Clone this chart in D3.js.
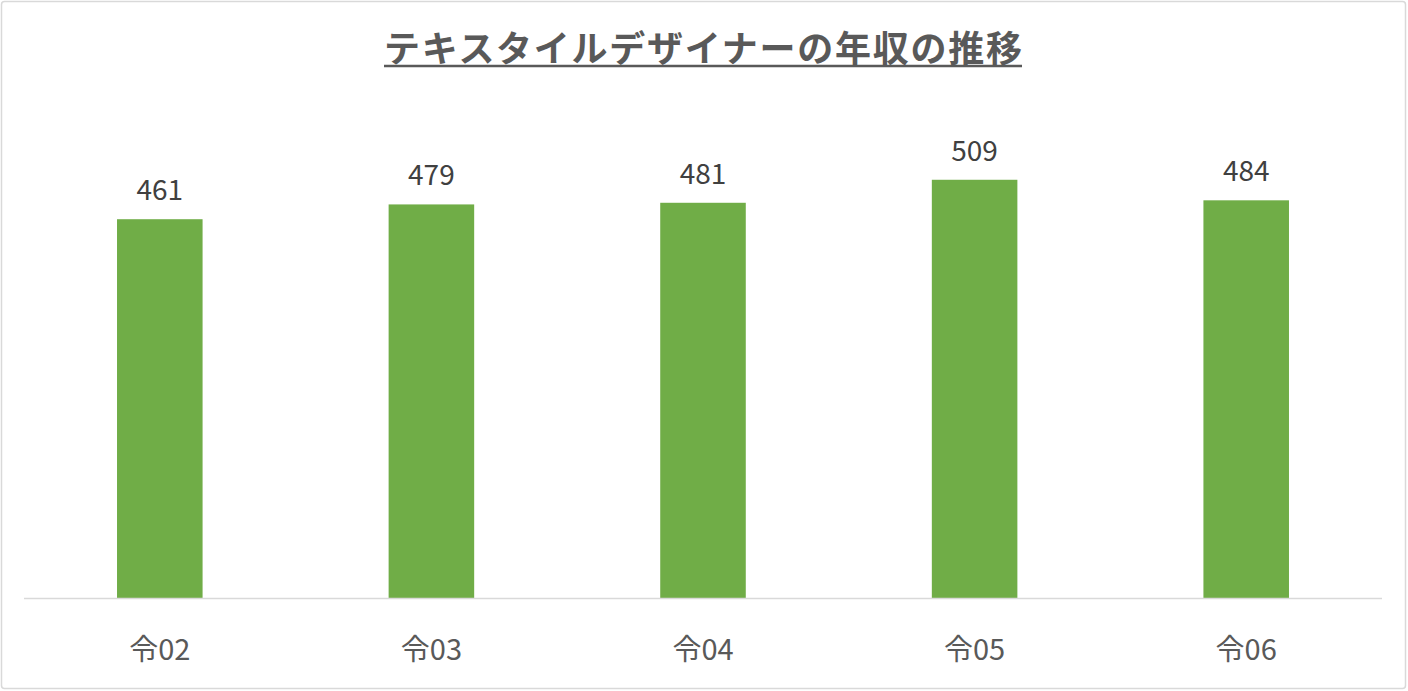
<!DOCTYPE html>
<html>
<head>
<meta charset="utf-8">
<script src="https://cdn.jsdelivr.net/npm/d3@7"></script>
<style>
  body { margin: 0; background: #fff; }
  text { font-family: "Noto Sans CJK JP", "Noto Sans", sans-serif; }
</style>
</head>
<body>
<script>
const w = 1408;
const h = 691;

const title = 'テキスタイルデザイナーの年収の推移';
const years = ['令02', '令03', '令04', '令05', '令06'];
const salary = [461, 479, 481, 509, 484];

const svg = d3.select('body')
  .append('svg')
  .attr('width', w)
  .attr('height', h);

// outer frame
svg.append('rect')
  .attr('x', 1.5)
  .attr('y', 1.5)
  .attr('width', w - 4)
  .attr('height', h - 4)
  .attr('rx', 3)
  .style('fill', '#fff')
  .style('stroke', '#d9d9d9')
  .style('stroke-width', 1.5);

const x = d3.scaleBand()
  .domain(years)
  .range([24, 1382])
  .paddingInner(0.685)
  .paddingOuter(0.3425);

const y = d3.scaleLinear()
  .domain([0, 600])
  .range([598, 105]);

// title + underline
svg.append('text')
  .attr('x', 703)
  .attr('y', 62)
  .attr('text-anchor', 'middle')
  .attr('textLength', 638)
  .attr('lengthAdjust', 'spacing')
  .style('font-size', '36px')
  .style('font-weight', 'bold')
  .style('fill', '#595959')
  .text(title);

svg.append('line')
  .attr('x1', 384)
  .attr('x2', 1022)
  .attr('y1', 66)
  .attr('y2', 66)
  .style('stroke', '#595959')
  .style('stroke-width', 2.5);

svg.selectAll('rect.bar')
  .data(salary)
  .enter()
  .append('rect')
  .attr('class', 'bar')
  .attr('x', (d, i) => x(years[i]))
  .attr('y', d => y(d))
  .attr('width', x.bandwidth())
  .attr('height', d => y(0) - y(d))
  .style('fill', '#70ad47');

svg.selectAll('text.val')
  .data(salary)
  .enter()
  .append('text')
  .attr('class', 'val')
  .attr('x', (d, i) => x(years[i]) + x.bandwidth() / 2)
  .attr('y', d => y(d) - 19)
  .attr('text-anchor', 'middle')
  .style('font-size', '28px')
  .style('fill', '#404040')
  .text(d => d);

// baseline
const axis = svg.append('g')
  .attr('transform', `translate(0,${y(0)})`)
  .call(d3.axisBottom(x).tickSize(0).tickPadding(41));
axis.select('.domain')
  .attr('d', `M${x.range()[0]},0.5H${x.range()[1]}`)
  .style('stroke', '#d9d9d9')
  .style('stroke-width', 1.5);
axis.selectAll('text')
  .style('font-size', '29px')
  .style('fill', '#595959')
  .style('font-family', '"Noto Sans CJK JP", sans-serif');
</script>
</body>
</html>
